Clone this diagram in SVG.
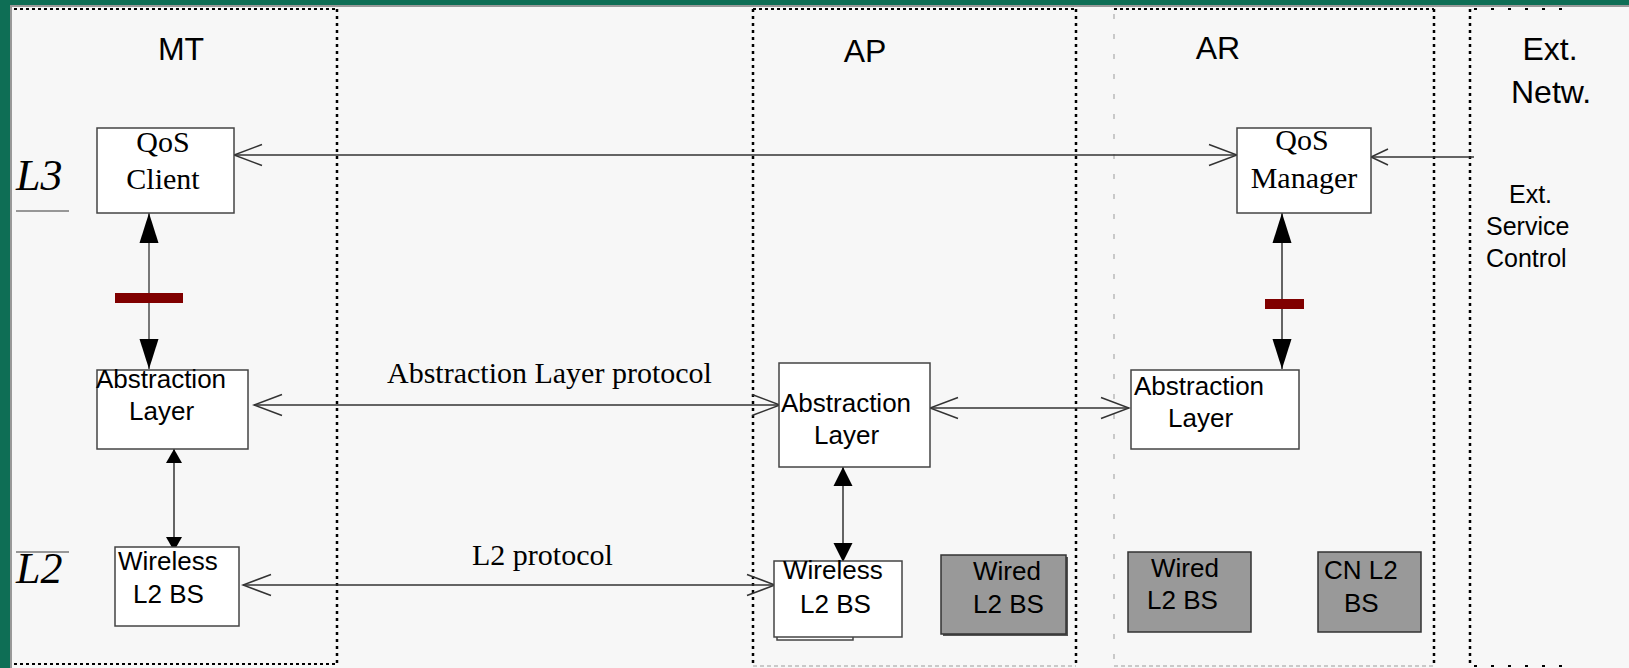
<svg xmlns="http://www.w3.org/2000/svg" width="1629" height="668" viewBox="0 0 1629 668">
<style>
.sans{font-family:"Liberation Sans",Arial,sans-serif;fill:#000}
.serif{font-family:"Liberation Serif","Times New Roman",serif;fill:#000}
.lane{font-size:32px}
.box{fill:#fff;stroke:#444;stroke-width:1.5}
.gbox{fill:#999;stroke:#333;stroke-width:1.5}
.t26{font-size:26px}
.t30{font-size:30px}
.conn{stroke:#333;stroke-width:1.5;fill:none}
.vb{stroke:#000;stroke-width:2.5;stroke-dasharray:3 4;fill:none}
.hb{stroke:#000;stroke-width:2;stroke-dasharray:3 3;fill:none}
.lg{stroke:#bbb;stroke-width:1.5;stroke-dasharray:5 15;fill:none}
.lgh{stroke:#bbb;stroke-width:1.5;stroke-dasharray:4 3;fill:none}
.bar{fill:#800000}
</style>
<defs>
<marker id="open" markerUnits="userSpaceOnUse" viewBox="-30 -12 32 24" refX="0" refY="0" markerWidth="32" markerHeight="24" orient="auto-start-reverse">
<path d="M-28,-10.5 L0,0 L-28,10.5" fill="none" stroke="#333" stroke-width="1.5"/>
</marker>
<marker id="openS" markerUnits="userSpaceOnUse" viewBox="-20 -10 22 20" refX="0" refY="0" markerWidth="22" markerHeight="20" orient="auto-start-reverse">
<path d="M-17,-8 L0,0 L-17,8" fill="none" stroke="#333" stroke-width="1.5"/>
</marker>
<marker id="fill" markerUnits="userSpaceOnUse" viewBox="-31 -11 32 22" refX="0" refY="0" markerWidth="32" markerHeight="22" orient="auto-start-reverse">
<path d="M-30,-9.5 L0,0 L-30,9.5 Z" fill="#000"/>
</marker>
<marker id="fillM" markerUnits="userSpaceOnUse" viewBox="-20 -11 21 22" refX="0" refY="0" markerWidth="21" markerHeight="22" orient="auto-start-reverse">
<path d="M-19,-9.5 L0,0 L-19,9.5 Z" fill="#000"/>
</marker>
<marker id="fillS" markerUnits="userSpaceOnUse" viewBox="-15 -9 16 18" refX="0" refY="0" markerWidth="16" markerHeight="18" orient="auto-start-reverse">
<path d="M-14,-8 L0,0 L-14,8 Z" fill="#000"/>
</marker>
</defs>
<rect x="0" y="0" width="1629" height="668" fill="#0e6e55"/>
<rect x="10" y="5" width="1619" height="663" fill="#999"/>
<rect x="12" y="7" width="1617" height="661" fill="#f7f7f7"/>

<g id="lanes">
<line class="hb" x1="14" y1="9" x2="337" y2="9"/>
<line class="vb" x1="337" y1="9" x2="337" y2="666"/>
<line class="hb" x1="14" y1="664" x2="337" y2="664"/>
<line class="hb" x1="753" y1="9" x2="1076" y2="9"/>
<line class="vb" x1="753" y1="9" x2="753" y2="666"/>
<line class="vb" x1="1076" y1="9" x2="1076" y2="666"/>
<line class="lgh" x1="753" y1="666" x2="1076" y2="666"/>
<line class="hb" x1="1114" y1="9" x2="1434" y2="9"/>
<line class="lg" x1="1114" y1="14" x2="1114" y2="666"/>
<line class="vb" x1="1434" y1="9" x2="1434" y2="666"/>
<line class="lgh" x1="1114" y1="666" x2="1434" y2="666"/>
<line class="vb" x1="1470" y1="9" x2="1470" y2="666"/>
<line stroke="#000" stroke-width="2" stroke-dasharray="3 14" x1="1474" y1="9" x2="1570" y2="9"/>
<line stroke="#000" stroke-width="2" stroke-dasharray="3 14" x1="1474" y1="666" x2="1570" y2="666"/>
<text class="sans lane" x="181" y="60" text-anchor="middle">MT</text>
<text class="sans lane" x="865" y="62" text-anchor="middle">AP</text>
<text class="sans lane" x="1218" y="59" text-anchor="middle">AR</text>
<text class="sans lane" x="1550" y="60" text-anchor="middle">Ext.</text>
<text class="sans lane" x="1551" y="103" text-anchor="middle">Netw.</text>
<text class="serif" x="16" y="190" font-size="44" font-style="italic">L3</text>
<line x1="16" y1="211" x2="69" y2="211" stroke="#777" stroke-width="1.5"/>
<text class="serif" x="16" y="583" font-size="44" font-style="italic">L2</text>
<line x1="16" y1="552" x2="69" y2="552" stroke="#777" stroke-width="1.5"/>
<text class="sans" font-size="25" x="1486" y="203"><tspan x="1509">Ext.</tspan><tspan x="1486" y="235">Service</tspan><tspan x="1486" y="267">Control</tspan></text>
</g>

<g id="connectors">
<line class="conn" x1="234" y1="155" x2="1237" y2="155" marker-start="url(#open)" marker-end="url(#open)"/>
<line class="conn" x1="1474" y1="157" x2="1371" y2="157" marker-end="url(#openS)"/>
<line x1="149" y1="213" x2="149" y2="369" stroke="#777" stroke-width="2" marker-start="url(#fill)" marker-end="url(#fill)"/>
<line class="conn" x1="174" y1="449" x2="174" y2="551" marker-start="url(#fillS)" marker-end="url(#fillS)"/>
<line class="conn" x1="254" y1="405" x2="780" y2="405" marker-start="url(#open)" marker-end="url(#open)"/>
<line class="conn" x1="243" y1="585" x2="775" y2="585" marker-start="url(#open)" marker-end="url(#open)"/>
<line class="conn" x1="843" y1="467" x2="843" y2="562" marker-start="url(#fillM)" marker-end="url(#fillM)"/>
<line class="conn" x1="930" y1="408" x2="1129" y2="408" marker-start="url(#open)" marker-end="url(#open)"/>
<line class="conn" x1="1282" y1="213" x2="1282" y2="369" marker-start="url(#fill)" marker-end="url(#fill)"/>
<rect class="bar" x="115" y="293" width="68" height="10"/>
<rect class="bar" x="1265" y="299" width="39" height="10"/>
<text class="serif t30" x="387" y="383">Abstraction Layer protocol</text>
<text class="serif t30" x="472" y="565">L2 protocol</text>
</g>

<g id="qos-client">
<rect class="box" x="97" y="128" width="137" height="85"/>
<text class="serif t30" x="163" y="152" text-anchor="middle">QoS</text>
<text class="serif t30" x="163" y="189" text-anchor="middle">Client</text>
</g>
<g id="mt-abstraction">
<rect class="box" x="97" y="370" width="151" height="79"/>
<text class="sans t26" x="96" y="388">Abstraction</text>
<text class="sans t26" x="129" y="420">Layer</text>
</g>
<g id="mt-wireless">
<rect class="box" x="115" y="547" width="124" height="79"/>
<text class="sans t26" x="118" y="570">Wireless</text>
<text class="sans t26" x="133" y="603">L2 BS</text>
</g>
<g id="ap-abstraction">
<rect class="box" x="779" y="363" width="151" height="104"/>
<text class="sans t26" x="781" y="412">Abstraction</text>
<text class="sans t26" x="814" y="444">Layer</text>
</g>
<g id="ap-wireless">
<rect class="box" x="777" y="600" width="76" height="40"/>
<rect class="box" x="774" y="561" width="128" height="76"/>
<text class="sans t26" x="783" y="579">Wireless</text>
<text class="sans t26" x="800" y="613">L2 BS</text>
</g>
<g id="ap-wired">
<rect x="943" y="557" width="125" height="79" fill="#555"/>
<rect class="gbox" x="941" y="555" width="125" height="79"/>
<text class="sans t26" x="973" y="580">Wired</text>
<text class="sans t26" x="973" y="613">L2 BS</text>
</g>
<g id="qos-manager">
<rect class="box" x="1237" y="128" width="134" height="85"/>
<text class="serif t30" x="1302" y="150" text-anchor="middle">QoS</text>
<text class="serif t30" x="1304" y="188" text-anchor="middle">Manager</text>
</g>
<g id="ar-abstraction">
<rect class="box" x="1131" y="370" width="168" height="79"/>
<text class="sans t26" x="1134" y="395">Abstraction</text>
<text class="sans t26" x="1168" y="427">Layer</text>
</g>
<g id="ar-wired">
<rect class="gbox" x="1128" y="552" width="123" height="80"/>
<text class="sans t26" x="1151" y="577">Wired</text>
<text class="sans t26" x="1147" y="609">L2 BS</text>
</g>
<g id="cn-l2-bs">
<rect class="gbox" x="1318" y="552" width="103" height="80"/>
<text class="sans t26" x="1324" y="579">CN L2</text>
<text class="sans t26" x="1344" y="612">BS</text>
</g>
</svg>
